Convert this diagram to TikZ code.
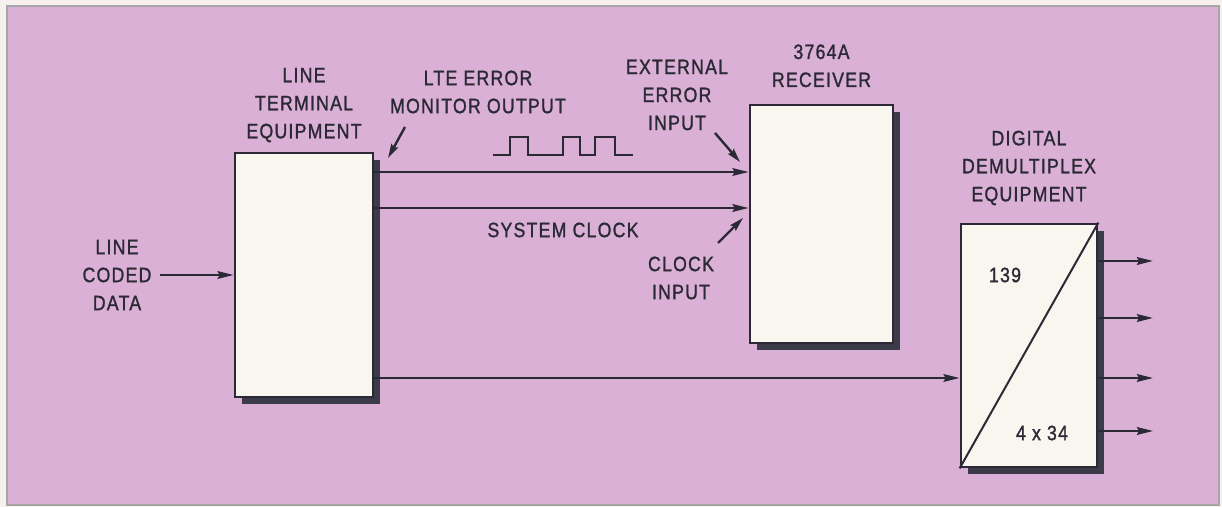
\documentclass[tikz,border=0pt]{standalone}
\usepackage{fontspec}
\setmainfont{Liberation Sans}[FakeStretch=0.85, LetterSpace=6, FakeBold=1.3]
\usetikzlibrary{arrows.meta, positioning, shadows}
\definecolor{bgpink}{HTML}{DAB0D6}
\definecolor{paper}{HTML}{F6F1EE}
\definecolor{boxfill}{HTML}{F8F6EF}
\definecolor{ink}{HTML}{2B2935}
\definecolor{shade}{HTML}{3C3B4A}

\begin{document}
\begin{tikzpicture}[x=0.5pt, y=-0.5pt,
        box/.style={rectangle, draw=ink, line width=1.4pt, fill=boxfill,
                    drop shadow={shadow xshift=3.5pt, shadow yshift=-3.5pt,
                                 fill=shade, opacity=1}},
        lbl/.style={font=\fontsize{10.4}{14}\selectfont, text=ink,
                    align=center, inner sep=0pt},
        arr/.style={-{Stealth[length=8pt, width=3.8pt, inset=1pt]},
                    line width=1.2pt, draw=ink},
        ptr/.style={-{Stealth[length=7pt, width=3.8pt, inset=1pt]},
                    line width=1.2pt, draw=ink}
      ]
      \useasboundingbox[fill=paper] (0,0) rectangle (1222,507);
      \draw[fill=bgpink, draw=gray!70, line width=0.6pt] (7,6) rectangle (1219,505);

      \node[box, minimum width=69pt, minimum height=122pt]   (lte) at (304,275) {};
      \node[box, minimum width=71.5pt, minimum height=119pt] (rx)  at (821.5,224) {};
      \node[box, minimum width=68pt, minimum height=121.5pt] (dmx) at (1029,345.5) {};
      \draw[line width=1pt, ink] (dmx.south west) -- (dmx.north east);

      \node[lbl, above=4.5pt of lte] (lteName) {LINE\\TERMINAL\\EQUIPMENT};
      \node[lbl, above=8pt of rx]    (rxName)  {3764A\\RECEIVER};
      \node[lbl, above=8.5pt of dmx] (dmxName) {DIGITAL\\DEMULTIPLEX\\EQUIPMENT};
      \node[lbl] (lcd)  at (117,275) {LINE\\CODED\\DATA};
      \node[lbl] (mon)  at (478,92)  {LTE ERROR\\MONITOR OUTPUT};
      \node[lbl] (ext)  at (677,95)  {EXTERNAL\\ERROR\\INPUT};
      \node[lbl] (sys)  at (563,230) {SYSTEM CLOCK};
      \node[lbl] (clk)  at (681,278) {CLOCK\\INPUT};
      \node[lbl] (hi)   at (1005,275) {139};
      \node[lbl] (lo)   at (1042,433) {4 x 34};

      \draw[arr] ([xshift=4pt]lcd.east) -- (lcd.east -| lte.west);
      \draw[arr] (lte.east |- 0,172) -- (rx.west |- 0,172);
      \draw[arr] (lte.east |- 0,208) -- (rx.west |- 0,208);
      \draw[arr] (lte.east |- 0,378) -- (dmx.west |- 0,378);
      \foreach \yy in {261,318,378,431} {
        \coordinate (out\yy) at (1153,\yy);
        \draw[arr] (dmx.east |- out\yy) -- (out\yy);
      }

      \coordinate (monTip) at (388,158);
      \coordinate (extTip) at (740,162);
      \coordinate (clkTip) at (743,218);
      \draw[ptr] (405,127) -- (monTip);
      \draw[ptr] (715,133) -- (extTip);
      \draw[ptr] (718,243) -- (clkTip);

      \draw[line width=1.2pt, ink] (493,155) -- (510,155) -- (510,137) -- (528,137)
        -- (528,155) -- (563,155) -- (563,137) -- (580,137) -- (580,155)
        -- (595,155) -- (595,137) -- (615,137) -- (615,155) -- (633,155);
    \end{tikzpicture}
\end{document}
